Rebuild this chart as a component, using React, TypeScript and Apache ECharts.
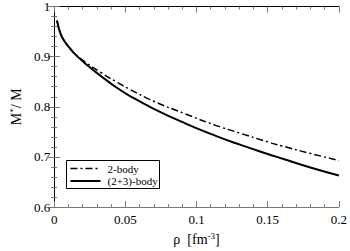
import React, { useEffect, useRef } from "react";
import * as echarts from "echarts";

const rho = [0.002, 0.004, 0.0065, 0.011, 0.015, 0.022, 0.033, 0.0435, 0.053, 0.07, 0.092, 0.1135, 0.13, 0.15, 0.16, 0.18, 0.2];
const twoBody = [0.972, 0.950, 0.934, 0.917, 0.905, 0.889, 0.868, 0.850, 0.835, 0.811, 0.786, 0.763, 0.748, 0.730, 0.722, 0.707, 0.693];
const threeBody = [0.972, 0.950, 0.934, 0.917, 0.904, 0.886, 0.861, 0.839, 0.822, 0.796, 0.767, 0.742, 0.725, 0.706, 0.697, 0.679, 0.663];
const seriesNames = ["2-body", "(2+3)-body"];
const xTicks = [0, 0.05, 0.1, 0.15, 0.2];
const yTicks = [0.6, 0.7, 0.8, 0.9, 1];

const FONT = "'Liberation Serif', 'Times New Roman', serif";
const DASH = [7, 3, 2, 3];

export default function App() {
  const ref = useRef<HTMLDivElement>(null);
  useEffect(() => {
    document.body.style.margin = "0";
    const chart = echarts.init(ref.current!, null, { renderer: "svg" });
    const xLabel = (v: number) => (xTicks.some((t) => Math.abs(t - v) < 1e-9) ? String(Math.round(v * 100) / 100) : "");
    const yLabel = (v: number) => (yTicks.some((t) => Math.abs(t - v) < 1e-9) ? String(Math.round(v * 10) / 10) : "");
    const tickStyle = {
      splitLine: { show: false },
      minorTick: { show: true, splitNumber: 5, length: 3, lineStyle: { color: "#777" } },
      axisTick: { show: true, inside: true, length: 6, lineStyle: { color: "#777" } },
    };
    const xc = { type: "value", min: 0, max: 0.2, interval: 0.05, ...tickStyle };
    const yc = { type: "value", min: 0.6, max: 1, interval: 0.1, ...tickStyle };
    const nameRich = {
      a: { fontFamily: FONT, fontSize: 14, color: "#000", lineHeight: 16 },
      s: { fontFamily: FONT, fontSize: 9, color: "#000", verticalAlign: "top", lineHeight: 16 },
    };
    chart.setOption({
      animation: false,
      grid: { left: 36, right: 7, top: 5, bottom: 32.5, containLabel: false },
      xAxis: [
        {
          ...xc,
          position: "bottom",
          axisLine: { show: true, lineStyle: { color: "#777", width: 1 } },
          axisLabel: { formatter: xLabel, fontFamily: FONT, fontSize: 13, color: "#000", margin: 6, showMinLabel: true, showMaxLabel: true },
          name: "{a|ρ  [fm}{s|-3}{a|]}",
          nameLocation: "middle",
          nameGap: 22,
          nameTextStyle: { rich: nameRich },
        },
        {
          ...xc,
          position: "top",
          axisLine: { show: true, lineStyle: { color: "#000", width: 1 } },
          axisLabel: { show: false },
        },
      ],
      yAxis: [
        {
          ...yc,
          position: "left",
          axisLine: { show: true, lineStyle: { color: "#777", width: 1 } },
          axisLabel: { formatter: yLabel, fontFamily: FONT, fontSize: 13, color: "#000", margin: 4 },
          name: "{a|M}{s|*}{a|/ M}",
          nameLocation: "middle",
          nameRotate: 90,
          nameGap: 21,
          nameTextStyle: { rich: nameRich },
        },
        {
          ...yc,
          position: "right",
          axisLine: { show: true, lineStyle: { color: "#000", width: 1 } },
          axisLabel: { show: false },
        },
      ],
      graphic: [
        {
          type: "group",
          left: 66,
          top: 160,
          children: [
            { type: "rect", shape: { x: 0, y: 0, width: 93, height: 28 }, style: { fill: "#fff", stroke: "#000", lineWidth: 1 } },
            { type: "line", shape: { x1: 4, y1: 8, x2: 34, y2: 8 }, style: { stroke: "#000", lineWidth: 1.5, lineDash: DASH } },
            { type: "text", x: 41, y: 8, style: { text: seriesNames[0], fontFamily: FONT, fontSize: 11, fill: "#000", verticalAlign: "middle" } },
            { type: "line", shape: { x1: 4, y1: 20.5, x2: 34, y2: 20.5 }, style: { stroke: "#000", lineWidth: 2 } },
            { type: "text", x: 41, y: 20.5, style: { text: seriesNames[1], fontFamily: FONT, fontSize: 11, fill: "#000", verticalAlign: "middle" } },
          ],
        },
      ],
      series: [
        {
          name: seriesNames[0],
          type: "line",
          symbol: "none",
          smooth: 0.5,
          data: rho.map((x, i) => [x, twoBody[i]]),
          lineStyle: { color: "#000", width: 1.5, type: DASH },
          z: 3,
        },
        {
          name: seriesNames[1],
          type: "line",
          symbol: "none",
          smooth: 0.5,
          data: rho.map((x, i) => [x, threeBody[i]]),
          lineStyle: { color: "#000", width: 2 },
          z: 2,
        },
      ],
    });
    return () => chart.dispose();
  }, []);
  return <div ref={ref} style={{ width: 350, height: 251 }} />;
}
